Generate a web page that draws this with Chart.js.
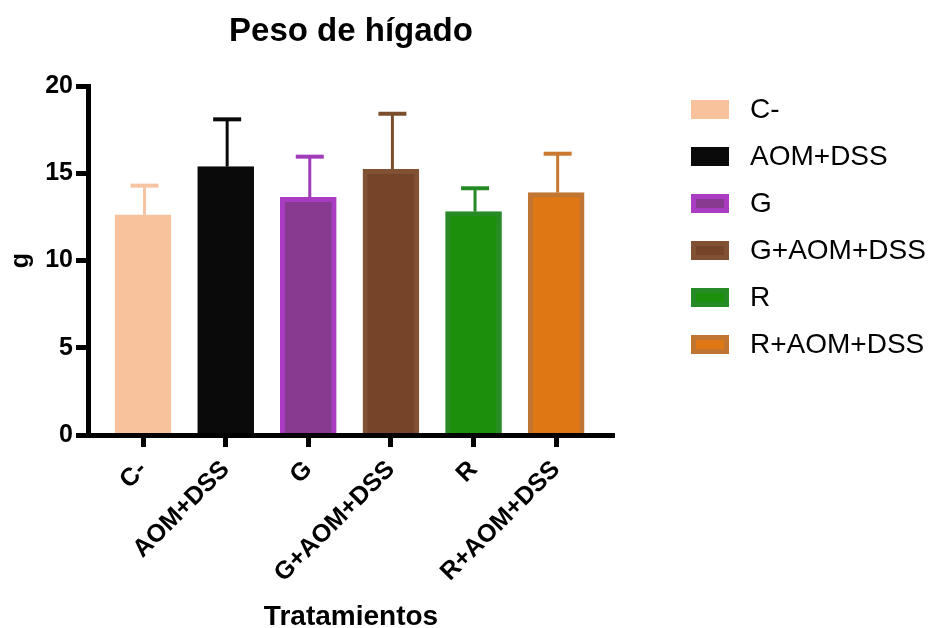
<!DOCTYPE html>
<html>
<head>
<meta charset="utf-8">
<script src="https://cdn.jsdelivr.net/npm/chart.js@4"></script>
<style>
  html, body { margin: 0; padding: 0; background: #ffffff; }
  #wrap { width: 929px; height: 628px; position: relative; }
</style>
</head>
<body>
<div id="wrap"><canvas id="chart"></canvas></div>
<script>
// Liver weight per treatment group (mean and SD, grams)
const categories = ['C-', 'AOM+DSS', 'G', 'G+AOM+DSS', 'R', 'R+AOM+DSS'];
const means = [12.62, 15.38, 13.62, 15.23, 12.80, 13.89];
const sds = [1.67, 2.71, 2.33, 3.18, 1.34, 2.23];
const yTicks = [0, 5, 10, 15, 20];

const fillColors = ['#f8c29d', '#0a0a0a', '#883a91', '#754429', '#1c8f0d', '#df7715'];
const edgeColors = ['#f8c29d', '#0a0a0a', '#a93cc0', '#805233', '#268a26', '#c07532'];
const errColors  = ['#f6c4a2', '#0a0a0a', '#a03cb8', '#7b4f2d', '#258a25', '#c8782f'];

const FONT = "'Liberation Sans', Arial, Helvetica, sans-serif";

// Upward error bars (mean + SD) drawn with the y scale
const errorBars = {
  id: 'errorBars',
  afterDatasetsDraw(chart) {
    const { ctx, scales: { y } } = chart;
    const meta = chart.getDatasetMeta(0);
    ctx.save();
    ctx.lineCap = 'butt';
    meta.data.forEach((bar, i) => {
      const cx = bar.x + 1.5;
      const yMean = y.getPixelForValue(means[i]);
      const yHigh = y.getPixelForValue(means[i] + sds[i]);
      ctx.strokeStyle = errColors[i];
      ctx.lineWidth = 3;
      ctx.beginPath();
      ctx.moveTo(cx, yMean);
      ctx.lineTo(cx, yHigh);
      ctx.stroke();
      ctx.lineWidth = 4;
      ctx.beginPath();
      ctx.moveTo(cx - 14, yHigh);
      ctx.lineTo(cx + 14, yHigh);
      ctx.stroke();
    });
    ctx.restore();
  }
};

// Legend column on the right: outlined swatch + group name
const sideLegend = {
  id: 'sideLegend',
  afterDraw(chart) {
    const { ctx } = chart;
    ctx.save();
    ctx.font = `28px ${FONT}`;
    ctx.textBaseline = 'middle';
    ctx.textAlign = 'left';
    categories.forEach((name, i) => {
      const cy = 109.5 + i * 47;
      const x0 = 691, w = 38, h = 19;
      ctx.fillStyle = edgeColors[i];
      ctx.fillRect(x0, cy - h / 2, w, h);
      ctx.fillStyle = fillColors[i];
      ctx.fillRect(x0 + 5, cy - h / 2 + 5, w - 10, h - 10);
      ctx.fillStyle = '#000000';
      ctx.fillText(name, 750, cy + 1);
    });
    ctx.restore();
  }
};

new Chart(document.getElementById('chart'), {
  type: 'bar',
  data: {
    datasets: [{
      data: means.map((v, i) => ({ x: i, y: v })),
      backgroundColor: fillColors,
      borderColor: edgeColors,
      borderWidth: 5,
      borderSkipped: 'start',
      barThickness: 56
    }]
  },
  options: {
    responsive: true,
    maintainAspectRatio: false,
    animation: false,
    layout: { padding: { left: 0, right: 315, top: 0, bottom: 0 } },
    plugins: {
      legend: { display: false },
      tooltip: { enabled: false },
      title: {
        display: true,
        fullSize: false,
        text: 'Peso de hígado',
        color: '#000000',
        font: { family: FONT, size: 33, weight: 'bold', lineHeight: 1.2 },
        padding: { top: 11.7, bottom: 34.7 }
      }
    },
    scales: {
      x: {
        type: 'linear',
        min: -0.666,
        max: 5.70,
        offset: false,
        grid: { display: true, drawOnChartArea: false, drawTicks: true, tickLength: 12, tickWidth: 5, tickColor: '#000000', offset: false },
        border: { display: true, color: '#000000', width: 5, z: 1 },
        afterBuildTicks: s => { s.ticks = categories.map((_, i) => ({ value: i })); },
        afterFit: s => { s.height = 193; },
        ticks: {
          autoSkip: false,
          minRotation: 45,
          maxRotation: 45,
          padding: 8,
          color: '#000000',
          font: { family: FONT, size: 25, weight: 'bold' },
          callback: v => categories[v]
        },
        title: {
          display: true,
          text: 'Tratamientos',
          color: '#000000',
          font: { family: FONT, size: 28, weight: 'bold', lineHeight: 0.79 },
          padding: { top: 0, bottom: 0 }
        }
      },
      y: {
        min: 0,
        max: 20,
        grid: { display: true, drawOnChartArea: false, drawTicks: true, tickLength: 12, tickWidth: 5, tickColor: '#000000' },
        border: { display: true, color: '#000000', width: 5, z: 1 },
        afterBuildTicks: s => { s.ticks = yTicks.map(v => ({ value: v })); },
        afterFit: s => { s.width = 88; },
        ticks: {
          padding: 3,
          color: '#000000',
          font: { family: FONT, size: 25, weight: 'bold' }
        },
        title: {
          display: true,
          text: 'g',
          color: '#000000',
          font: { family: FONT, size: 25, weight: 'bold', lineHeight: 1.2 },
          padding: { top: 6, bottom: 0 }
        }
      }
    }
  },
  plugins: [errorBars, sideLegend]
});
</script>
</body>
</html>
